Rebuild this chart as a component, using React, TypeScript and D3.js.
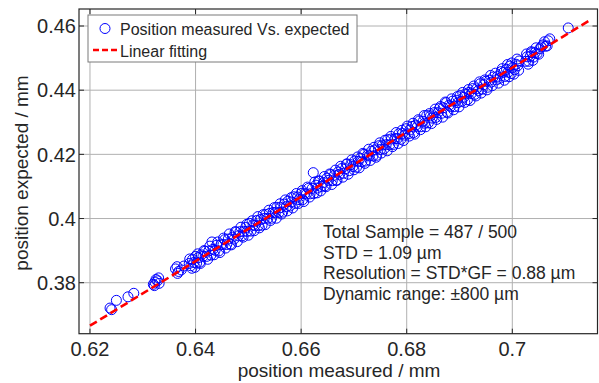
import React from 'react';
import * as d3 from 'd3';

const measured = [
  0.6238, 0.6241, 0.6250, 0.6272, 0.6283,
  0.6320, 0.6323, 0.6325, 0.6328, 0.6330, 0.6322, 0.6331,
  0.6362, 0.6365, 0.6368, 0.6373, 0.6378, 0.6366,
  0.6388, 0.6391, 0.6394, 0.6397, 0.6400, 0.6402, 0.6405, 0.6408, 0.6411, 0.6414,
  0.6418, 0.6421, 0.6425, 0.6431, 0.6429, 0.6433, 0.6437, 0.6440, 0.6444, 0.6448,
  0.6452, 0.6455, 0.6459, 0.6462, 0.6466, 0.6470, 0.6473, 0.6477, 0.6481, 0.6484,
  0.6488, 0.6491, 0.6495, 0.6498, 0.6502, 0.6505, 0.6509, 0.6512, 0.6516, 0.6519,
  0.6523, 0.6526, 0.6530, 0.6533, 0.6537, 0.6540, 0.6544, 0.6547, 0.6551, 0.6554,
  0.6558, 0.6561, 0.6565, 0.6568, 0.6572, 0.6575, 0.6579, 0.6582, 0.6586, 0.6589,
  0.6593, 0.6596, 0.6600, 0.6603, 0.6607, 0.6610, 0.6614, 0.6617, 0.6621, 0.6623,
  0.6624, 0.6628, 0.6631, 0.6635, 0.6638, 0.6642, 0.6645, 0.6649, 0.6652, 0.6656,
  0.6659, 0.6663, 0.6666, 0.6670, 0.6673, 0.6677, 0.6680, 0.6684, 0.6687, 0.6691,
  0.6694, 0.6698, 0.6701, 0.6705, 0.6708, 0.6712, 0.6715, 0.6719, 0.6722, 0.6726,
  0.6729, 0.6733, 0.6736, 0.6740, 0.6743, 0.6747, 0.6750, 0.6754, 0.6757, 0.6761,
  0.6764, 0.6768, 0.6771, 0.6775, 0.6778, 0.6782, 0.6785, 0.6789, 0.6792, 0.6796,
  0.6799, 0.6803, 0.6806, 0.6810, 0.6813, 0.6817, 0.6820, 0.6824, 0.6827, 0.6831,
  0.6834, 0.6838, 0.6841, 0.6845, 0.6848, 0.6852, 0.6855, 0.6859, 0.6862, 0.6866,
  0.6869, 0.6873, 0.6876, 0.6880, 0.6883, 0.6887, 0.6890, 0.6894, 0.6897, 0.6901,
  0.6904, 0.6908, 0.6911, 0.6915, 0.6918, 0.6922, 0.6925, 0.6929, 0.6932, 0.6936,
  0.6939, 0.6943, 0.6946, 0.6950, 0.6953, 0.6957, 0.6960, 0.6964, 0.6970, 0.6972,
  0.6976, 0.6979, 0.6983, 0.6986, 0.6989, 0.6992, 0.6995, 0.6998, 0.7001, 0.7004,
  0.7007, 0.7010, 0.7013, 0.7025, 0.7028, 0.7031, 0.7034, 0.7037, 0.7040, 0.7043,
  0.7047, 0.7052, 0.7058, 0.7063, 0.7068, 0.7106,
  0.6389, 0.6393, 0.6399, 0.6404, 0.6409, 0.6416, 0.6423, 0.6427, 0.6435, 0.6442,
  0.6446, 0.6453, 0.6457, 0.6464, 0.6468, 0.6475, 0.6479, 0.6486, 0.6490, 0.6497,
  0.6500, 0.6507, 0.6511, 0.6518, 0.6521, 0.6528, 0.6532, 0.6539, 0.6542, 0.6549,
  0.6553, 0.6560, 0.6563, 0.6570, 0.6574, 0.6581, 0.6584, 0.6591, 0.6595, 0.6602,
  0.6605, 0.6612, 0.6616, 0.6626, 0.6630, 0.6633, 0.6637, 0.6644, 0.6647, 0.6654,
  0.6658, 0.6665, 0.6668, 0.6675, 0.6679, 0.6686, 0.6689, 0.6696, 0.6700, 0.6707,
  0.6710, 0.6717, 0.6721, 0.6728, 0.6731, 0.6738, 0.6742, 0.6749, 0.6752, 0.6759,
  0.6763, 0.6770, 0.6773, 0.6780, 0.6784, 0.6791, 0.6794, 0.6801, 0.6805, 0.6812,
  0.6815, 0.6822, 0.6826, 0.6833, 0.6836, 0.6843, 0.6847, 0.6854, 0.6857, 0.6864,
  0.6868, 0.6875, 0.6878, 0.6885, 0.6889, 0.6896, 0.6899, 0.6906, 0.6910, 0.6917,
  0.6920, 0.6927, 0.6931, 0.6938, 0.6941, 0.6948, 0.6952, 0.6959, 0.6962, 0.6968,
  0.6974, 0.6981, 0.6985, 0.6991, 0.6994, 0.6999, 0.7003, 0.7009, 0.7012, 0.7027,
  0.7030, 0.7036, 0.7039, 0.7045, 0.7050, 0.7055, 0.7061, 0.7066, 0.7071,
];

const expected = [
  0.3721, 0.3716, 0.3745, 0.3756, 0.3767,
  0.3795, 0.3802, 0.3810, 0.3806, 0.3815, 0.3791, 0.3798,
  0.3843, 0.3850, 0.3835, 0.3840, 0.3852, 0.3829,
  0.3860, 0.3853, 0.3872, 0.3863, 0.3882, 0.3861, 0.3878, 0.3864, 0.3887, 0.3882,
  0.3898, 0.3882, 0.3899, 0.3927, 0.3886, 0.3904, 0.3901, 0.3917, 0.3899, 0.3918,
  0.3919, 0.3934, 0.3919, 0.3936, 0.3920, 0.3942, 0.3936, 0.3958, 0.3946, 0.3959,
  0.3946, 0.3960, 0.3972, 0.3960, 0.3985, 0.3961, 0.3980, 0.3978, 0.3994, 0.3978,
  0.3997, 0.3979, 0.4000, 0.4013, 0.4001, 0.4016, 0.4001, 0.4019, 0.4018, 0.4035,
  0.4019, 0.4034, 0.4020, 0.4045, 0.4037, 0.4054, 0.4039, 0.4052, 0.4068, 0.4047,
  0.4067, 0.4059, 0.4078, 0.4059, 0.4078, 0.4076, 0.4094, 0.4077, 0.4094, 0.4143,
  0.4078, 0.4104, 0.4095, 0.4117, 0.4100, 0.4112, 0.4102, 0.4126, 0.4119, 0.4137,
  0.4118, 0.4135, 0.4119, 0.4145, 0.4138, 0.4156, 0.4141, 0.4155, 0.4170, 0.4149,
  0.4168, 0.4162, 0.4179, 0.4160, 0.4178, 0.4188, 0.4177, 0.4200, 0.4179, 0.4198,
  0.4195, 0.4210, 0.4195, 0.4214, 0.4197, 0.4227, 0.4215, 0.4229, 0.4217, 0.4230,
  0.4246, 0.4230, 0.4248, 0.4231, 0.4249, 0.4249, 0.4264, 0.4247, 0.4265, 0.4260,
  0.4280, 0.4264, 0.4276, 0.4287, 0.4268, 0.4291, 0.4286, 0.4304, 0.4286, 0.4303,
  0.4297, 0.4321, 0.4298, 0.4320, 0.4313, 0.4330, 0.4315, 0.4330, 0.4343, 0.4328,
  0.4345, 0.4363, 0.4332, 0.4353, 0.4349, 0.4366, 0.4349, 0.4368, 0.4361, 0.4383,
  0.4365, 0.4378, 0.4388, 0.4370, 0.4393, 0.4389, 0.4405, 0.4387, 0.4404, 0.4399,
  0.4420, 0.4403, 0.4417, 0.4428, 0.4409, 0.4431, 0.4425, 0.4441, 0.4432, 0.4443,
  0.4437, 0.4458, 0.4455, 0.4443, 0.4465, 0.4456, 0.4475, 0.4452, 0.4471, 0.4464,
  0.4481, 0.4476, 0.4491, 0.4490, 0.4504, 0.4490, 0.4506, 0.4517, 0.4503, 0.4517,
  0.4514, 0.4529, 0.4541, 0.4537, 0.4554, 0.4594,
  0.3874, 0.3845, 0.3848, 0.3890, 0.3860, 0.3900, 0.3873, 0.3914, 0.3887, 0.3927,
  0.3894, 0.3939, 0.3908, 0.3952, 0.3918, 0.3959, 0.3928, 0.3973, 0.3942, 0.3982,
  0.3948, 0.3993, 0.3962, 0.4006, 0.3971, 0.4012, 0.3981, 0.4026, 0.3994, 0.4034,
  0.4001, 0.4046, 0.4014, 0.4058, 0.4024, 0.4065, 0.4033, 0.4078, 0.4047, 0.4087,
  0.4053, 0.4098, 0.4067, 0.4114, 0.4080, 0.4117, 0.4086, 0.4131, 0.4099, 0.4139,
  0.4106, 0.4151, 0.4119, 0.4163, 0.4129, 0.4170, 0.4138, 0.4183, 0.4152, 0.4192,
  0.4158, 0.4203, 0.4172, 0.4216, 0.4181, 0.4222, 0.4191, 0.4236, 0.4204, 0.4244,
  0.4211, 0.4256, 0.4224, 0.4268, 0.4234, 0.4275, 0.4243, 0.4288, 0.4257, 0.4297,
  0.4263, 0.4308, 0.4277, 0.4321, 0.4286, 0.4327, 0.4296, 0.4341, 0.4309, 0.4349,
  0.4316, 0.4361, 0.4329, 0.4373, 0.4339, 0.4380, 0.4348, 0.4393, 0.4362, 0.4402,
  0.4368, 0.4413, 0.4382, 0.4426, 0.4391, 0.4432, 0.4401, 0.4446, 0.4414, 0.4453,
  0.4422, 0.4467, 0.4431, 0.4480, 0.4442, 0.4485, 0.4450, 0.4497, 0.4462, 0.4513,
  0.4481, 0.4520, 0.4493, 0.4532, 0.4512, 0.4535, 0.4551, 0.4538, 0.4560,
];

const fitX = [0.62, 0.715];
const fitY = [0.3666, 0.4621];

const xTicks = [0.62, 0.64, 0.66, 0.68, 0.7];
const xTickLabels = ['0.62', '0.64', '0.66', '0.68', '0.7'];
const yTicks = [0.38, 0.4, 0.42, 0.44, 0.46];
const yTickLabels = ['0.38', '0.4', '0.42', '0.44', '0.46'];

const xLabel = 'position measured / mm';
const yLabel = 'position expected / mm';
const legendLabels = ['Position measured Vs. expected', 'Linear fitting'];
const annotationLines = [
  'Total Sample = 487 / 500',
  'STD = 1.09 µm',
  'Resolution = STD*GF = 0.88 µm',
  'Dynamic range: ±800 µm',
];

const W = 599;
const H = 383;
const L = 79;
const R = 597.5;
const T = 9;
const B = 333.7;
const FONT = '"Liberation Sans", Arial, sans-serif';
const TXT = '#262626';

export default function App() {
  const x = d3.scaleLinear().domain([0.61792, 0.71614]).range([L, R]);
  const y = d3.scaleLinear().domain([0.36411, 0.4653]).range([B, T]);
  const line = d3
    .line<number>()
    .x((d, i) => x(fitX[i]))
    .y((d) => y(d));
  const n = Math.min(measured.length, expected.length);
  const pts = measured.slice(0, n).map((m, i) => [m, expected[i]] as [number, number]);

  return (
    <svg
      width={W}
      height={H}
      style={{ position: 'absolute', left: 0, top: 0, display: 'block', background: '#fff' }}
      fontFamily={FONT}
    >
      <rect x={0} y={0} width={W} height={H} fill="#fff" />
      {xTicks.map((t) => (
        <line key={'gx' + t} x1={x(t)} x2={x(t)} y1={T} y2={B} stroke="#b0b0b0" strokeWidth={1} />
      ))}
      {yTicks.map((t) => (
        <line key={'gy' + t} x1={L} x2={R} y1={y(t)} y2={y(t)} stroke="#b0b0b0" strokeWidth={1} />
      ))}
      <g fill="none" stroke="#0000ff" strokeWidth={1}>
        {pts.map((p, i) => (
          <circle key={i} cx={x(p[0])} cy={y(p[1])} r={5} />
        ))}
      </g>
      <path d={line(fitY) || ''} fill="none" stroke="#ff0000" strokeWidth={2.6} strokeDasharray="8,4" />
      <rect x={L} y={T} width={R - L} height={B - T} fill="none" stroke="#262626" strokeWidth={1.2} />
      {xTicks.map((t) => (
        <g key={'tx' + t} stroke="#262626" strokeWidth={1}>
          <line x1={x(t)} x2={x(t)} y1={B} y2={B - 5} />
          <line x1={x(t)} x2={x(t)} y1={T} y2={T + 5} />
        </g>
      ))}
      {yTicks.map((t) => (
        <g key={'ty' + t} stroke="#262626" strokeWidth={1}>
          <line x1={L} x2={L + 5} y1={y(t)} y2={y(t)} />
          <line x1={R} x2={R - 5} y1={y(t)} y2={y(t)} />
        </g>
      ))}
      {xTicks.map((t, i) => (
        <text key={'lx' + t} x={x(t)} y={356} textAnchor="middle" fontSize={20} fill={TXT}>
          {xTickLabels[i]}
        </text>
      ))}
      {yTicks.map((t, i) => (
        <text key={'ly' + t} x={76} y={y(t)} dy="0.36em" textAnchor="end" fontSize={20} fill={TXT}>
          {yTickLabels[i]}
        </text>
      ))}
      <text x={339} y={377} textAnchor="middle" fontSize={19} fill={TXT}>
        {xLabel}
      </text>
      <text transform={`translate(28,173) rotate(-90)`} textAnchor="middle" fontSize={19} fill={TXT}>
        {yLabel}
      </text>
      <rect x={88} y={15} width={269} height={47} fill="#fff" stroke="#7a7a7a" strokeWidth={1} />
      <circle cx={105} cy={28.5} r={5} fill="none" stroke="#0000ff" strokeWidth={1} />
      <text x={120} y={35} fontSize={16} fill={TXT}>
        {legendLabels[0]}
      </text>
      <line x1={93} x2={117} y1={50} y2={50} stroke="#ff0000" strokeWidth={2.6} strokeDasharray="6,3" />
      <text x={120} y={56.5} fontSize={16} fill={TXT}>
        {legendLabels[1]}
      </text>
      {annotationLines.map((s, i) => (
        <text key={'an' + i} x={323} y={238 + i * 20.6} fontSize={17.5} fill={TXT}>
          {s}
        </text>
      ))}
    </svg>
  );
}
